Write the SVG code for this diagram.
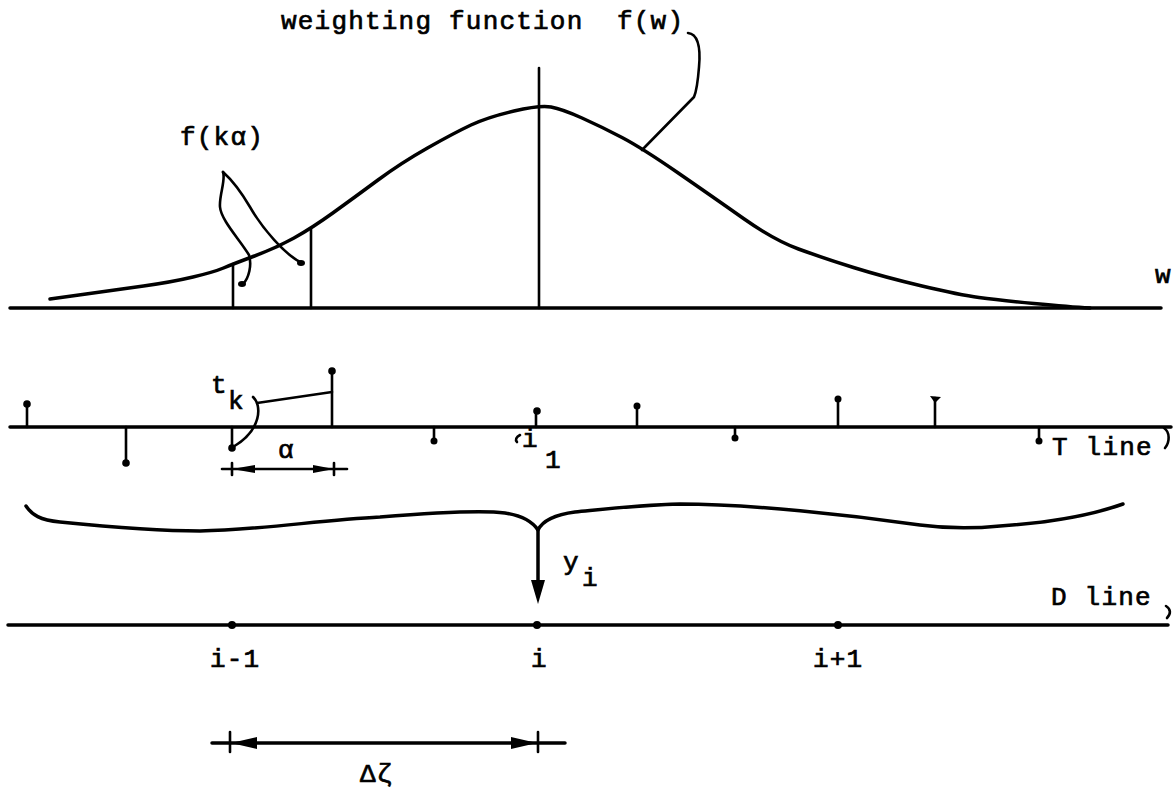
<svg xmlns="http://www.w3.org/2000/svg" width="1176" height="791" viewBox="0 0 1176 791">
<style>
.ln{stroke:#000;fill:none;stroke-linecap:round;stroke-linejoin:round}
.th{stroke-width:3.5}
.md{stroke-width:2.6}
.dot{fill:#000}
.txt{font-family:"Liberation Mono","Courier New",monospace;font-size:26px;letter-spacing:1.2px;fill:#000;stroke:#000;stroke-width:0.7px}
</style>
<rect width="1176" height="791" fill="#fff"/>
<g id="title"><text class="txt" x="281" y="29">weighting function<tspan x="617">f(w)</tspan></text></g>
<g id="w-axis">
<line class="ln th" x1="10" y1="308" x2="1161" y2="308"/>
<text class="txt" x="1155" y="283">w</text>
</g>
<g id="weighting-curve">
<path class="ln th" d="M50,299 L82.5,294.5 Q115,290 143.5,286 Q172,282 193,277 Q214,272 223.5,268 Q233,264 254.5,256 Q276,248 294,238 Q312,228 333.5,212.5 Q355,197 378,180 Q401,163 427.5,148 Q454,133 471,125 Q488,117 514,111 Q540,105 551,107 Q562,109 582,118 Q602,127 622,137.5 Q642,148 677.5,172.5 Q713,197 743.5,218.5 Q774,240 798.5,249 Q823,258 853.5,267.5 Q884,277 922,286 Q960,295 979,297.5 Q998,300 1034,303.5 Q1070,307 1090,308"/>
<line class="ln md" x1="539" y1="68" x2="539" y2="308"/>
<line class="ln md" x1="233" y1="264" x2="233" y2="308"/>
<line class="ln md" x1="311" y1="229" x2="311" y2="308"/>
</g>
<g id="label-fka"><text class="txt" x="180" y="145">f(kα)</text></g>
<g id="t-line">
<line class="ln th" x1="10" y1="427" x2="1171" y2="427"/>
<g class="ln md">
<line x1="27" y1="427" x2="27" y2="404"/>
<line x1="126" y1="427" x2="126" y2="463"/>
<line x1="232" y1="427" x2="232" y2="448"/>
<line x1="332" y1="427" x2="332" y2="371"/>
<line x1="434" y1="427" x2="434" y2="441"/>
<line x1="536" y1="427" x2="536" y2="412"/>
<line x1="637" y1="427" x2="637" y2="406"/>
<line x1="735" y1="427" x2="735" y2="438"/>
<line x1="838" y1="427" x2="838" y2="399"/>
<line x1="935" y1="427" x2="935" y2="398"/>
<line x1="1039" y1="427" x2="1039" y2="441"/>
</g>
<g class="dot">
<circle cx="27" cy="404" r="3.8"/>
<circle cx="126" cy="463" r="3.8"/>
<circle cx="232" cy="448" r="3.8"/>
<circle cx="332" cy="371" r="3.8"/>
<circle cx="434" cy="441" r="3.5"/>
<circle cx="537" cy="411" r="3.8"/>
<circle cx="637" cy="406" r="3.5"/>
<circle cx="735" cy="438" r="3.5"/>
<circle cx="838" cy="399" r="3.5"/>
<path d="M930,396 L941,397 L935,403 Z"/>
<circle cx="1039" cy="441" r="3.5"/>
</g>
<text class="txt" x="1052" y="455">T line</text>
<path class="ln md" d="M1164,428 C1170,432 1170,442 1165,448"/>
</g>
<g id="label-tk"><text class="txt" x="211" y="393">t<tspan x="228" y="409">k</tspan></text></g>
<g id="label-alpha"><text class="txt" x="278" y="458">α</text></g>
<g id="label-i1">
<path class="ln md" d="M520,435 C516,437 515,440 517,442"/>
<text class="txt" x="522" y="447">i<tspan x="545" y="468">1</tspan></text>
</g>
<g id="brace">
<path class="ln th" d="M26,506 C32,515 40,520 60,522 C100,526 150,531 200,531 C260,530 320,520 380,517 C430,513 480,510 505,513 C525,516 534,524 538,530 C542,522 552,515 575,512 C615,508 640,505 680,504 C750,504 850,515 920,525 C950,529 980,528 1000,526 C1060,522 1095,514 1123,504"/>
</g>
<g id="label-yi"><text class="txt" x="563" y="570">y<tspan x="582" y="586">i</tspan></text></g>
<g id="d-line">
<line class="ln th" x1="8" y1="625" x2="1168" y2="625"/>
<circle class="dot" cx="232" cy="625" r="4"/>
<circle class="dot" cx="537" cy="625" r="4"/>
<circle class="dot" cx="838" cy="625" r="4"/>
<text class="txt" x="1051" y="605">D line</text>
<path class="ln md" d="M1166,606 C1171,609 1171,614 1167,618"/>
<text class="txt" x="210" y="667">i-1</text>
<text class="txt" x="531" y="667">i</text>
<text class="txt" x="813" y="667">i+1</text>
</g>
<g id="label-dzeta"><text class="txt" x="360" y="782">Δζ</text></g>
<g id="connectors">
<path class="ln md" d="M688,33 C697,34 701,45 699,67 C698,80 697,90 694,97 L642,150"/>
<path class="ln md" d="M223,172 C226,180 219,195 220,207 C221,220 240,240 249,255 C252,265 249,278 243,284"/>
<path class="ln md" d="M223,172 C232,180 240,190 250,207 C262,228 285,255 302,263"/>
<ellipse class="dot" cx="242" cy="284" rx="4" ry="3"/>
<ellipse class="dot" cx="301" cy="263" rx="4" ry="3"/>
<path class="ln md" d="M253,397 C262,405 262,430 233,447"/>
<path class="ln md" d="M257,403 L332,392"/>
<line class="ln md" x1="222" y1="469" x2="347" y2="469"/>
<line class="ln md" x1="232" y1="463" x2="232" y2="475"/>
<line class="ln md" x1="334" y1="463" x2="334" y2="475"/>
<path class="dot" d="M232,469 L255,465 L255,473 Z"/>
<path class="dot" d="M334,469 L313,465 L313,473 Z"/>
<line class="ln th" x1="538" y1="530" x2="538" y2="585"/>
<path class="dot" d="M531,580 L545,580 L538,604 Z"/>
<line class="ln th" x1="212" y1="743" x2="565" y2="743"/>
<line class="ln md" x1="230" y1="732" x2="230" y2="752"/>
<line class="ln md" x1="538" y1="732" x2="538" y2="752"/>
<path class="dot" d="M231,743 L257,737 L257,749 Z"/>
<path class="dot" d="M537,743 L511,737 L511,749 Z"/>
</g>
</svg>
